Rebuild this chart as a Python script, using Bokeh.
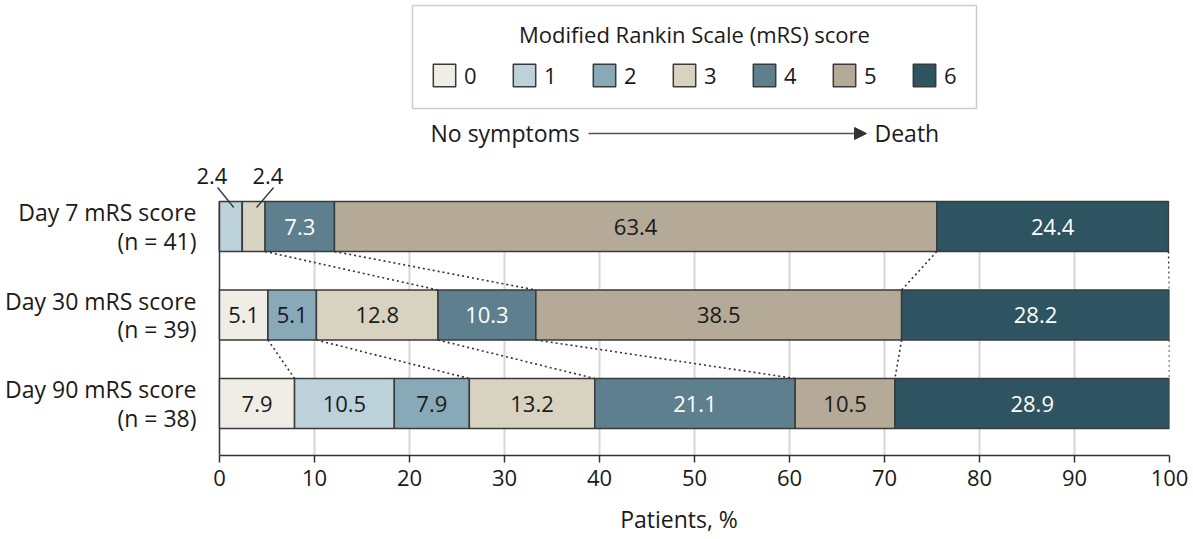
import numpy as np
from bokeh.plotting import figure
from bokeh.models import (ColumnDataSource, Range1d, FixedTicker, Legend, LegendItem,
                          Label, Arrow, NormalHead, BoxAnnotation)
from bokeh.core.properties import value
from bokeh.embed import file_html
from bokeh.resources import INLINE

# ---------------- data ----------------
timepoints = ["Day 7 mRS score", "Day 30 mRS score", "Day 90 mRS score"]
n_patients = [41, 39, 38]
scores = ["0", "1", "2", "3", "4", "5", "6"]
score_0 = [0.0, 5.1, 7.9]
score_1 = [2.4, 0.0, 10.5]
score_2 = [0.0, 5.1, 7.9]
score_3 = [2.4, 12.8, 13.2]
score_4 = [7.3, 10.3, 21.1]
score_5 = [63.4, 38.5, 10.5]
score_6 = [24.4, 28.2, 28.9]
x_ticks = [0, 10, 20, 30, 40, 50, 60, 70, 80, 90, 100]
legend_title = "Modified Rankin Scale (mRS) score"
scale_start_text = "No symptoms"
scale_end_text = "Death"
x_label = "Patients, %"

# ---------------- style / layout ----------------
colors = ["#EFEDE5", "#BDD1DA", "#88A9B8", "#D8D3C1", "#5E7F8E", "#B5AA97", "#2E5361"]
light_text_cats = {"4", "6"}
FONT = "Open Sans"
TXT = "#1a1a1a"
EDGE = "#3a3a3a"
W, H = 1190, 537
ZERO_PX, HUNDRED_PX = 219, 1169          # where 0 % and 100 % sit
FRAME_LEFT = 188                          # frame starts a little left of 0 % (room for labels)
FRAME_TOP, FRAME_BOTTOM = 0, 455
PX_PER_X = (HUNDRED_PX - ZERO_PX) / 100.0
X_MIN = -(ZERO_PX - FRAME_LEFT) / PX_PER_X
ROW_PX = 88.5
BAR_PX = 50
BAR_H = BAR_PX / ROW_PX
y_pos = [3, 2, 1]
y_start = 1 - (FRAME_BOTTOM - 403) / ROW_PX
y_end = y_start + (FRAME_BOTTOM - FRAME_TOP) / ROW_PX
y_top_bar = y_pos[0] + BAR_H / 2


def dx(px):
    return (px - ZERO_PX) / PX_PER_X


def dy(py):
    return y_start + (FRAME_BOTTOM - py) / ROW_PX


vals = np.array([score_0, score_1, score_2, score_3, score_4, score_5, score_6])
cum_end = np.cumsum(vals, axis=0)
cum_start = cum_end - vals

src = ColumnDataSource(dict(y=y_pos, **{s: list(v) for s, v in zip(scores, vals)}))

p = figure(width=W, height=H, output_backend="svg", toolbar_location=None,
           x_range=Range1d(X_MIN, 100), y_range=Range1d(y_start, y_end),
           min_border_left=FRAME_LEFT, min_border_right=W - HUNDRED_PX,
           min_border_top=FRAME_TOP, min_border_bottom=H - FRAME_BOTTOM)
p.outline_line_color = None
p.background_fill_color = "white"
p.border_fill_color = "white"

# grid
p.ygrid.visible = False
p.xgrid.ticker = FixedTicker(ticks=x_ticks[1:])
p.xgrid.grid_line_color = "#d6d6d6"
p.xgrid.grid_line_width = 2
grid = p.xgrid[0]
if "cross_bounds" in grid.properties():
    grid.cross_bounds = (y_start, y_top_bar)

# left spine at 0 %
p.segment([x_ticks[0]], [y_start], [x_ticks[0]], [y_top_bar], line_color="#333333", line_width=1.5)

# bars
renderers = p.hbar_stack(scores, y="y", height=BAR_H, color=colors, line_color=EDGE,
                         line_width=1.5, source=src)

# dotted connectors between rows (category boundaries present in both rows)
cx0, cy0, cx1, cy1 = [], [], [], []
for j in range(len(y_pos) - 1):
    for i in range(len(scores)):
        if vals[i, j] > 0 and vals[i, j + 1] > 0:
            cx0.append(cum_end[i, j]); cy0.append(y_pos[j] - BAR_H / 2)
            cx1.append(cum_end[i, j + 1]); cy1.append(y_pos[j + 1] + BAR_H / 2)
p.segment(cx0, cy0, cx1, cy1, line_color="#333333", line_width=1.6, line_dash="2 3")

# value labels
lx, ly, lt, lc = [], [], [], []
ex, ey, et = [], [], []
sx0, sy0, sx1, sy1 = [], [], [], []
for j in range(len(y_pos)):
    small = [i for i in range(len(scores)) if 0 < vals[i, j] < 4]
    offs = np.linspace(-1, 1, len(small)) * 1.75 - 0.25 if len(small) > 1 else [0.0]
    for i in range(len(scores)):
        v = vals[i, j]
        if v >= 4:
            lx.append(cum_start[i, j] + v / 2); ly.append(y_pos[j]); lt.append(f"{v:.1f}")
            lc.append("white" if scores[i] in light_text_cats else TXT)
    for k, i in enumerate(small):
        c = cum_start[i, j] + vals[i, j] / 2
        x_lab = c + offs[k]
        ex.append(x_lab); ey.append(y_pos[j] + BAR_H / 2 + 26 / ROW_PX); et.append(f"{vals[i, j]:.1f}")
        sx0.append(x_lab + 0.6); sy0.append(y_pos[j] + BAR_H / 2 + 14 / ROW_PX)
        sx1.append(c + 0.3); sy1.append(y_pos[j] + BAR_H / 2 - 6 / ROW_PX)

p.text(lx, ly, text=lt, text_color=lc, text_align="center", text_baseline="middle",
       text_font=value(FONT), text_font_size="22px")
p.text(ex, ey, text=et, text_color=TXT, text_align="center", text_baseline="alphabetic",
       text_font=value(FONT), text_font_size="22px")
p.segment(sx0, sy0, sx1, sy1, line_color="#333333", line_width=1.3)

# axes
p.xaxis.ticker = FixedTicker(ticks=x_ticks)
p.xaxis.bounds = (x_ticks[0], x_ticks[-1])
p.xaxis.axis_label = x_label
p.xaxis.axis_label_text_font = FONT
p.xaxis.axis_label_text_font_size = "23px"
p.xaxis.axis_label_text_font_style = "normal"
p.xaxis.axis_label_text_color = TXT
p.xaxis.axis_label_standoff = 14
p.xaxis.major_label_text_font = FONT
p.xaxis.major_label_text_font_size = "22px"
p.xaxis.major_label_text_color = TXT
p.xaxis.major_label_standoff = 7
p.xaxis.major_tick_in = 0
p.xaxis.major_tick_out = 7
p.xaxis.minor_tick_line_color = None
p.xaxis.axis_line_color = "#333333"
p.xaxis.axis_line_width = 1.5
p.xaxis.major_tick_line_color = "#333333"
p.xaxis.major_tick_line_width = 1.5

p.yaxis.ticker = FixedTicker(ticks=y_pos)
p.yaxis.major_label_overrides = {y: f"{t}\n(n = {n})" for y, t, n in zip(y_pos, timepoints, n_patients)}
p.yaxis.major_tick_line_color = None
p.yaxis.minor_tick_line_color = None
p.yaxis.axis_line_color = None
p.yaxis.major_label_text_font = FONT
p.yaxis.major_label_text_font_size = "23px"
p.yaxis.major_label_text_line_height = 0.88
p.yaxis.major_label_text_color = TXT
p.yaxis.major_label_standoff = 17 - (ZERO_PX - FRAME_LEFT)

# legend
legend = Legend(items=[LegendItem(label=s, renderers=[r]) for s, r in zip(scores, renderers)],
                orientation="horizontal", location=(430 - FRAME_LEFT, FRAME_BOTTOM - 90),
                glyph_width=28, glyph_height=28, label_standoff=6, label_width=24, label_height=28,
                spacing=22, padding=0, margin=0, border_line_color=None, background_fill_alpha=0,
                label_text_font=FONT, label_text_font_size="22px", label_text_color=TXT,
                label_text_baseline="middle")
p.add_layout(legend)
p.add_layout(BoxAnnotation(left=dx(412), right=dx(976), top=dy(5), bottom=dy(108),
                           fill_alpha=0, line_color="#555555", line_width=1.5))
p.add_layout(Label(x=dx(694), y=dy(33), text=legend_title, text_align="center",
                   text_baseline="middle", text_font=FONT, text_font_size="22px", text_color=TXT))
p.add_layout(Arrow(x_start=dx(588), y_start=dy(133), x_end=dx(866), y_end=dy(133),
                   end=NormalHead(size=12, fill_color="#333333", line_color="#333333"),
                   line_color="#555555", line_width=1.5))
p.add_layout(Label(x=dx(430), y=dy(132), text=scale_start_text, text_align="left",
                   text_baseline="middle", text_font=FONT, text_font_size="23px", text_color=TXT))
p.add_layout(Label(x=dx(874), y=dy(132), text=scale_end_text, text_align="left",
                   text_baseline="middle", text_font=FONT, text_font_size="23px", text_color=TXT))

open("out.html", "w").write(file_html(p, INLINE))
